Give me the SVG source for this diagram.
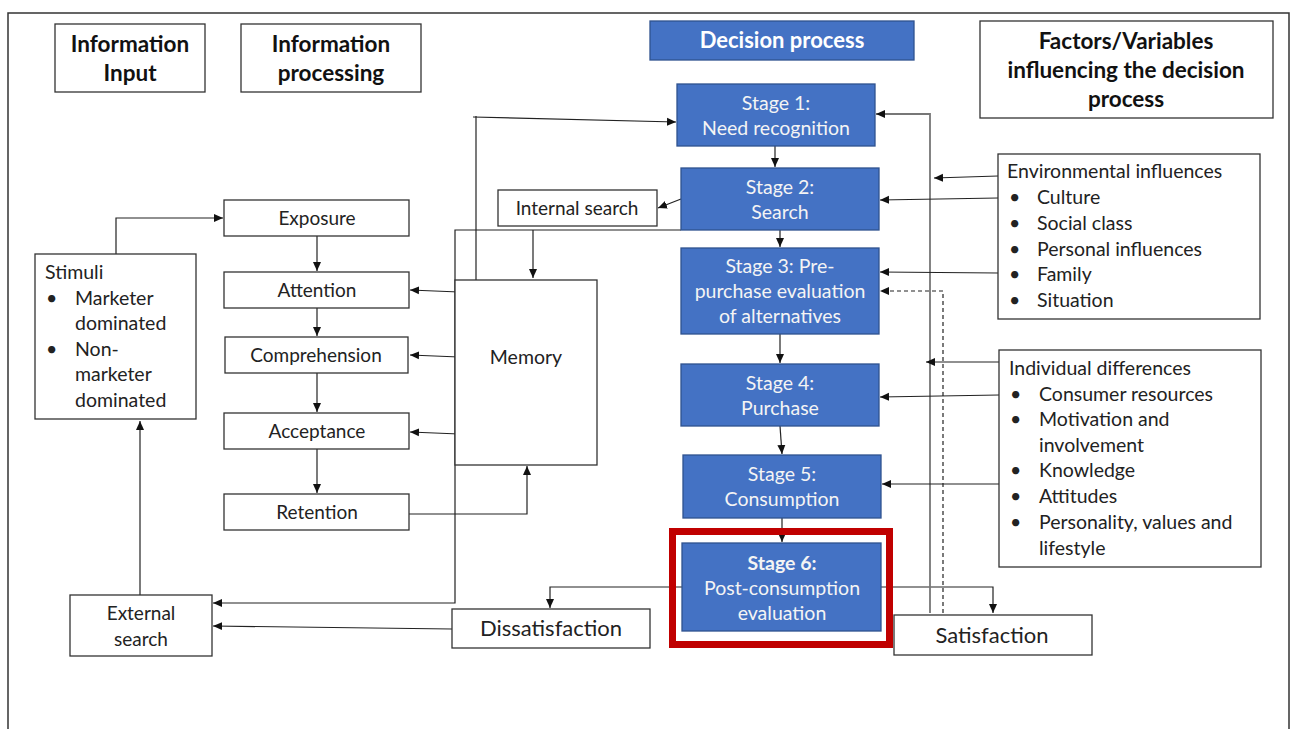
<svg xmlns="http://www.w3.org/2000/svg" width="1295" height="729" viewBox="0 0 1295 729">
<style>
  text { font-family: Lato, "Liberation Sans", sans-serif; fill: #222; }
  .box { fill: #fff; stroke: #333; stroke-width: 1.3; }
  .stage { fill: #4472C4; stroke: #2F528F; stroke-width: 1.3; }
  .st { fill: #F4F4F4; font-size: 19.5px; text-anchor: middle; }
  .hd { font-size: 22.5px; font-weight: bold; text-anchor: middle; fill: #111; }
  .lbl { font-size: 19px; text-anchor: middle; }
  .big { font-size: 22px; }
  .li { font-size: 19.5px; }
  .c { fill: none; stroke: #222; stroke-width: 1.2; }
  .a { marker-end: url(#ah); }
</style>
<defs>
  <marker id="ah" markerUnits="userSpaceOnUse" markerWidth="10" markerHeight="10" viewBox="0 0 10 10" refX="9" refY="5" orient="auto">
    <path d="M0,1 L9,5 L0,9 Z" fill="#111"/>
  </marker>
</defs>
<path d="M8,729 V13 H1289 V729" fill="none" stroke="#333" stroke-width="1.5"/>

<g id="connectors">
  <path class="c a" d="M116,254 V218 H223"/>
  <path class="c a" d="M317,236 V271"/>
  <path class="c a" d="M317,308 V336"/>
  <path class="c a" d="M317,373 V412"/>
  <path class="c a" d="M317,449 V493"/>
  <path class="c a" d="M459,292 L410,290"/>
  <path class="c a" d="M459,357 L410,355"/>
  <path class="c a" d="M459,434 L410,432"/>
  <path class="c a" d="M409,514 H527 V466"/>
  <path class="c" d="M476,282 V116"/>
  <path class="c a" d="M473,117 L676,122"/>
  <path class="c a" d="M681,199 L658,208"/>
  <path class="c a" d="M533,230 V278"/>
  <path class="c a" d="M681,230 H455 V603 H213"/>
  <path class="c a" d="M140,595 V421"/>
  <path class="c a" d="M452,629 L213,626"/>
  <path class="c a" d="M682,587 H550 V608"/>
  <path class="c a" d="M881,587 H993 V613"/>
  <path class="c a" d="M930,613 V114 H876" style="stroke:#777;stroke-width:1.8"/>
  <path class="c a" d="M943,613 V291 H880" stroke-dasharray="4,3"/>
  <path class="c a" d="M998,176 L934,178"/>
  <path class="c a" d="M998,198 L880,200"/>
  <path class="c a" d="M998,273 L880,272"/>
  <path class="c a" d="M999,362 H926"/>
  <path class="c a" d="M999,395 L880,397"/>
  <path class="c a" d="M999,484 H882"/>
  <path class="c a" d="M775,146 V167"/>
  <path class="c a" d="M780,230 V247"/>
  <path class="c a" d="M780,334 V363"/>
  <path class="c a" d="M780,426 L782,454"/>
  <path class="c a" d="M782,518 V542"/>
</g>

<g id="header-input"><rect class="box" x="55" y="24" width="150" height="68"/>
  <text class="hd" x="130" y="52">Information</text><text class="hd" x="130" y="81">Input</text></g>
<g id="header-processing"><rect class="box" x="241" y="24" width="180" height="68"/>
  <text class="hd" x="331" y="52">Information</text><text class="hd" x="331" y="81">processing</text></g>
<g id="header-decision"><rect class="stage" x="650" y="21" width="264" height="39"/>
  <text class="hd" x="782" y="48" style="fill:#fff;font-size:22px">Decision process</text></g>
<g id="header-factors"><rect class="box" x="980" y="21" width="293" height="97"/>
  <text class="hd" x="1126" y="49">Factors/Variables</text>
  <text class="hd" x="1126" y="78">influencing the decision</text>
  <text class="hd" x="1126" y="107">process</text></g>

<g id="stage1"><rect class="stage" x="677" y="84" width="198" height="62"/>
  <text class="st" x="776" y="110">Stage 1:</text><text class="st" x="776" y="135">Need recognition</text></g>
<g id="stage2"><rect class="stage" x="681" y="168" width="198" height="62"/>
  <text class="st" x="780" y="194">Stage 2:</text><text class="st" x="780" y="219">Search</text></g>
<g id="stage3"><rect class="stage" x="681" y="248" width="198" height="86"/>
  <text class="st" x="780" y="273">Stage 3: Pre-</text><text class="st" x="780" y="298">purchase evaluation</text><text class="st" x="780" y="323">of alternatives</text></g>
<g id="stage4"><rect class="stage" x="681" y="364" width="198" height="62"/>
  <text class="st" x="780" y="390">Stage 4:</text><text class="st" x="780" y="415">Purchase</text></g>
<g id="stage5"><rect class="stage" x="683" y="455" width="198" height="63"/>
  <text class="st" x="782" y="481">Stage 5:</text><text class="st" x="782" y="506">Consumption</text></g>
<g id="stage6"><rect x="672.5" y="531.5" width="217" height="113" fill="none" stroke="#C00000" stroke-width="7"/>
  <rect class="stage" x="682" y="543" width="199" height="88"/>
  <text class="st" x="782" y="570" font-weight="bold">Stage 6:</text><text class="st" x="782" y="595">Post-consumption</text><text class="st" x="782" y="620">evaluation</text></g>

<g id="exposure"><rect class="box" x="224" y="200" width="185" height="36"/><text class="lbl" x="317" y="225">Exposure</text></g>
<g id="attention"><rect class="box" x="224" y="272" width="185" height="36"/><text class="lbl" x="317" y="297">Attention</text></g>
<g id="comprehension"><rect class="box" x="225" y="337" width="183" height="36"/><text class="lbl" x="316" y="362">Comprehension</text></g>
<g id="acceptance"><rect class="box" x="224" y="413" width="185" height="36"/><text class="lbl" x="317" y="438">Acceptance</text></g>
<g id="retention"><rect class="box" x="224" y="494" width="185" height="36"/><text class="lbl" x="317" y="519">Retention</text></g>
<g id="memory"><rect class="box" x="455" y="280" width="142" height="185"/><text class="lbl" x="526" y="364" style="font-size:19.5px">Memory</text></g>
<g id="internal-search"><rect class="box" x="498" y="190" width="159" height="36"/><text class="lbl" x="577" y="215">Internal search</text></g>
<g id="external-search"><rect class="box" x="70" y="595" width="142" height="61"/>
  <text class="lbl" x="141" y="620">External</text><text class="lbl" x="141" y="646">search</text></g>
<g id="dissatisfaction"><rect class="box" x="452" y="609" width="198" height="39"/><text class="lbl big" x="551" y="636">Dissatisfaction</text></g>
<g id="satisfaction"><rect class="box" x="894" y="615" width="198" height="40"/><text class="lbl big" x="992" y="643">Satisfaction</text></g>

<g id="stimuli"><rect class="box" x="35" y="254" width="161" height="165"/>
  <text class="li" x="45" y="279">Stimuli</text>
  <text class="li" x="46" y="305">•</text><text class="li" x="75" y="305">Marketer</text>
  <text class="li" x="75" y="330">dominated</text>
  <text class="li" x="46" y="356">•</text><text class="li" x="75" y="356">Non-</text>
  <text class="li" x="75" y="381">marketer</text>
  <text class="li" x="75" y="407">dominated</text></g>

<g id="environmental"><rect class="box" x="998" y="154" width="262" height="165"/>
  <text class="li" x="1007" y="178">Environmental influences</text>
  <text class="li" x="1009" y="204">•</text><text class="li" x="1037" y="204">Culture</text>
  <text class="li" x="1009" y="230">•</text><text class="li" x="1037" y="230">Social class</text>
  <text class="li" x="1009" y="256">•</text><text class="li" x="1037" y="256">Personal influences</text>
  <text class="li" x="1009" y="281">•</text><text class="li" x="1037" y="281">Family</text>
  <text class="li" x="1009" y="307">•</text><text class="li" x="1037" y="307">Situation</text></g>

<g id="individual"><rect class="box" x="999" y="350" width="262" height="217"/>
  <text class="li" x="1009" y="375">Individual differences</text>
  <text class="li" x="1010" y="401">•</text><text class="li" x="1039" y="401">Consumer resources</text>
  <text class="li" x="1010" y="426">•</text><text class="li" x="1039" y="426">Motivation and</text>
  <text class="li" x="1039" y="452">involvement</text>
  <text class="li" x="1010" y="477">•</text><text class="li" x="1039" y="477">Knowledge</text>
  <text class="li" x="1010" y="503">•</text><text class="li" x="1039" y="503">Attitudes</text>
  <text class="li" x="1010" y="529">•</text><text class="li" x="1039" y="529">Personality, values and</text>
  <text class="li" x="1039" y="555">lifestyle</text></g>
</svg>
